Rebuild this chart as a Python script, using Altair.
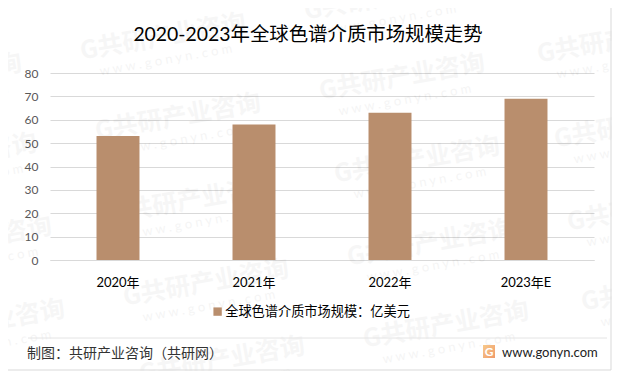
import altair as alt
import pandas as pd

FONT = "Lato, 'Noto Sans CJK SC'"
CJK = "'Noto Sans CJK SC'"

categories = ["2020年", "2021年", "2022年", "2023年E"]
values = [53, 58, 63, 69]
series_name = "全球色谱介质市场规模：亿美元"
title_text = "2020-2023年全球色谱介质市场规模走势"
footer_text = "制图：共研产业咨询（共研网）"
site_text = "www.gonyn.com"
wm_main = "G共研产业咨询"
wm_sub = "w w w . g o n y n . c o m"
# watermark centres in page pixels
wm_centres = [
    (-61, 77), (-46, 157), (-31, 240), (-18, 323),
    (163, 37), (178, 117), (193, 200), (206, 283), (222, 360),
    (387, -3), (402, 77), (417, 160), (430, 243), (446, 325),
    (620, 40), (637, 125), (650, 208), (664, 288),
]

PL, PT = 50, 73  # plot origin on the page
W, H = 544, 187
dummy = pd.DataFrame({"a": [0]})


def txt(text, x, y, size, color, align="left", angle=0, weight="normal", font=FONT, op=1):
    return alt.Chart(dummy).mark_text(
        text=text, fontSize=size, color=color, align=align, baseline="middle",
        angle=angle, fontWeight=weight, font=font, opacity=op,
    ).encode(x=alt.value(x - PL), y=alt.value(y - PT))


layers = []
for cx, cy in wm_centres:
    layers.append(txt(wm_main, cx, cy, 25, "#000000", "center", 350, "bold", CJK, 0.033))
    layers.append(txt(wm_sub, cx + 3, cy + 23, 13, "#000000", "center", 350, op=0.04))

frame = alt.Chart(dummy).mark_rect(fill="transparent", stroke="#d9d9d9", strokeWidth=1).encode(
    x=alt.value(-42.5), x2=alt.value(561), y=alt.value(-65.5), y2=alt.value(297)
)
divider = alt.Chart(dummy).mark_rule(color="#e4e4e4").encode(
    x=alt.value(28 - PL), x2=alt.value(607 - PL), y=alt.value(338 - PT)
)

df = pd.DataFrame({"cat": categories, "val": values, "s": [series_name] * 4})
bars = alt.Chart(df).mark_bar(color="#b98e6d").encode(
    x=alt.X(
        "cat:N", sort=categories, title=None,
        scale=alt.Scale(paddingInner=0.684, paddingOuter=0.342),
        axis=alt.Axis(labelAngle=0, ticks=False, labelPadding=16, labelFontSize=13, labelColor="#000000",
                      labelFont=FONT, domainColor="#d9d9d9", grid=False),
    ),
    y=alt.Y(
        "val:Q", title=None, scale=alt.Scale(domain=[0, 80]),
        axis=alt.Axis(values=list(range(0, 81, 10)), ticks=False, domain=False, labelPadding=12, labelFontSize=12,
                      labelColor="#595959", labelFont=FONT, gridColor="#d9d9d9", grid=True),
    ),
    color=alt.Color(
        "s:N", scale=alt.Scale(range=["#b98e6d"]), title=None,
        legend=alt.Legend(orient="none", legendX=161, legendY=232, symbolType="square", symbolSize=70,
                          symbolStrokeWidth=0, labelFontSize=13.2, labelColor="#000000", labelFont=FONT,
                          labelLimit=300, labelOffset=1),
    ),
)

logo = alt.Chart(dummy).mark_rect(
    fill=alt.Gradient(gradient="linear", x1=0, x2=1, y1=0, y2=1,
                      stops=[alt.GradientStop(color="#f7c98a", offset=0), alt.GradientStop(color="#f09a6a", offset=1)])
).encode(x=alt.value(483 - PL), x2=alt.value(495 - PL), y=alt.value(345 - PT), y2=alt.value(358 - PT))

layers += [
    frame, divider, bars,
    txt(title_text, 308, 35, 19.4, "#000000", "center"),
    txt(footer_text, 27, 354, 14, "#333333"),
    txt(site_text, 502, 353, 13, "#222222"),
    logo,
    txt("G", 489, 351.5, 12, "#ffffff", "center", 0, "bold"),
]

chart = alt.layer(*layers).properties(
    width=W, height=H,
    autosize=alt.AutoSizeParams(type="none"),
    padding={"left": 42, "top": 65, "right": 18, "bottom": 111},
    background="white",
).configure_view(stroke=None)

chart.save("out.html", embed_options={"renderer": "svg", "actions": False})
